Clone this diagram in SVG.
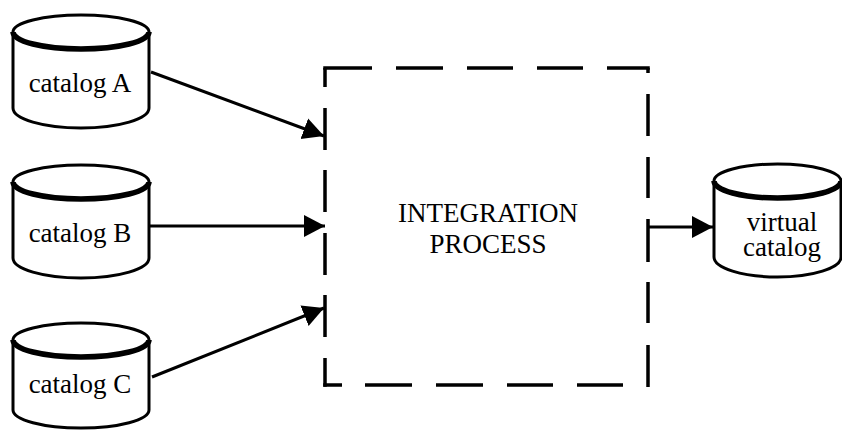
<svg xmlns="http://www.w3.org/2000/svg" width="842" height="430" viewBox="0 0 842 430">
  <defs>
    <style>
      .cyl { fill: #fff; stroke: #000; stroke-width: 3; }
      .front { fill: none; stroke: #000; stroke-width: 5.5; }
      .lbl { font-family: "Liberation Serif", "Times New Roman", serif; font-size: 27px; fill: #000; text-anchor: middle; }
      .edge { stroke: #000; stroke-width: 3; fill: none; }
      .dash { stroke: #000; stroke-width: 3.5; fill: none; }
    </style>
    <marker id="arrow" markerUnits="userSpaceOnUse" markerWidth="22" markerHeight="24" viewBox="0 0 22 24" refX="21" refY="12" orient="auto">
      <path d="M0,1 L21,12 L0,23 Z" fill="#000"/>
    </marker>
  </defs>
  <rect width="842" height="430" fill="#fff"/>

  <g id="connectors">
    <line class="edge" x1="151" y1="72" x2="324" y2="136" marker-end="url(#arrow)"/>
    <line class="edge" x1="150" y1="226" x2="325" y2="226" marker-end="url(#arrow)"/>
    <line class="edge" x1="152" y1="377" x2="324" y2="308" marker-end="url(#arrow)"/>
    <line class="edge" x1="649" y1="227" x2="713" y2="227" marker-end="url(#arrow)"/>
  </g>

  <g id="catalogA">
    <path class="cyl" d="M13,32 L13,108 A68,20 0 0 0 149,108 L149,32 A68,17 0 0 0 13,32 Z"/>
    <path class="front" d="M13,32 A68,17 0 0 0 149,32"/>
    <text class="lbl" x="80" y="92">catalog A</text>
  </g>

  <g id="catalogB">
    <path class="cyl" d="M13,182 L13,258 A68,20 0 0 0 149,258 L149,182 A68,17 0 0 0 13,182 Z"/>
    <path class="front" d="M13,182 A68,17 0 0 0 149,182"/>
    <text class="lbl" x="80" y="242">catalog B</text>
  </g>

  <g id="catalogC">
    <path class="cyl" d="M13,340 L13,410 A68,18 0 0 0 149,410 L149,340 A68,17 0 0 0 13,340 Z"/>
    <path class="front" d="M13,340 A68,17 0 0 0 149,340"/>
    <text class="lbl" x="80" y="393">catalog C</text>
  </g>

  <g id="integration">
    <line class="dash" x1="323.25" y1="68" x2="649.75" y2="68" stroke-dasharray="48.75 24 47 24 46 24 46 24 42.75"/>
    <line class="dash" x1="648" y1="68" x2="648" y2="387" stroke-dasharray="5 21 42 21 41 21 43 20 41 22 42"/>
    <line class="dash" x1="325" y1="68" x2="325" y2="386.75" stroke-dasharray="19 21 42 20 42 21 42 20 42 21 28.75"/>
    <line class="dash" x1="323.25" y1="385" x2="649.75" y2="385" stroke-dasharray="18.75 23 47 24 47 24 46 24 46 100"/>
    <text class="lbl" x="488" y="222">INTEGRATION<tspan x="488" dy="31">PROCESS</tspan></text>
  </g>

  <g id="virtualCatalog">
    <path class="cyl" d="M714,181 L714,257 A63.5,20 0 0 0 841,257 L841,181 A63.5,17 0 0 0 714,181 Z"/>
    <path class="front" d="M714,181 A63.5,17 0 0 0 841,181"/>
    <text class="lbl" x="782" y="231">virtual<tspan x="782" dy="25">catalog</tspan></text>
  </g>
</svg>
